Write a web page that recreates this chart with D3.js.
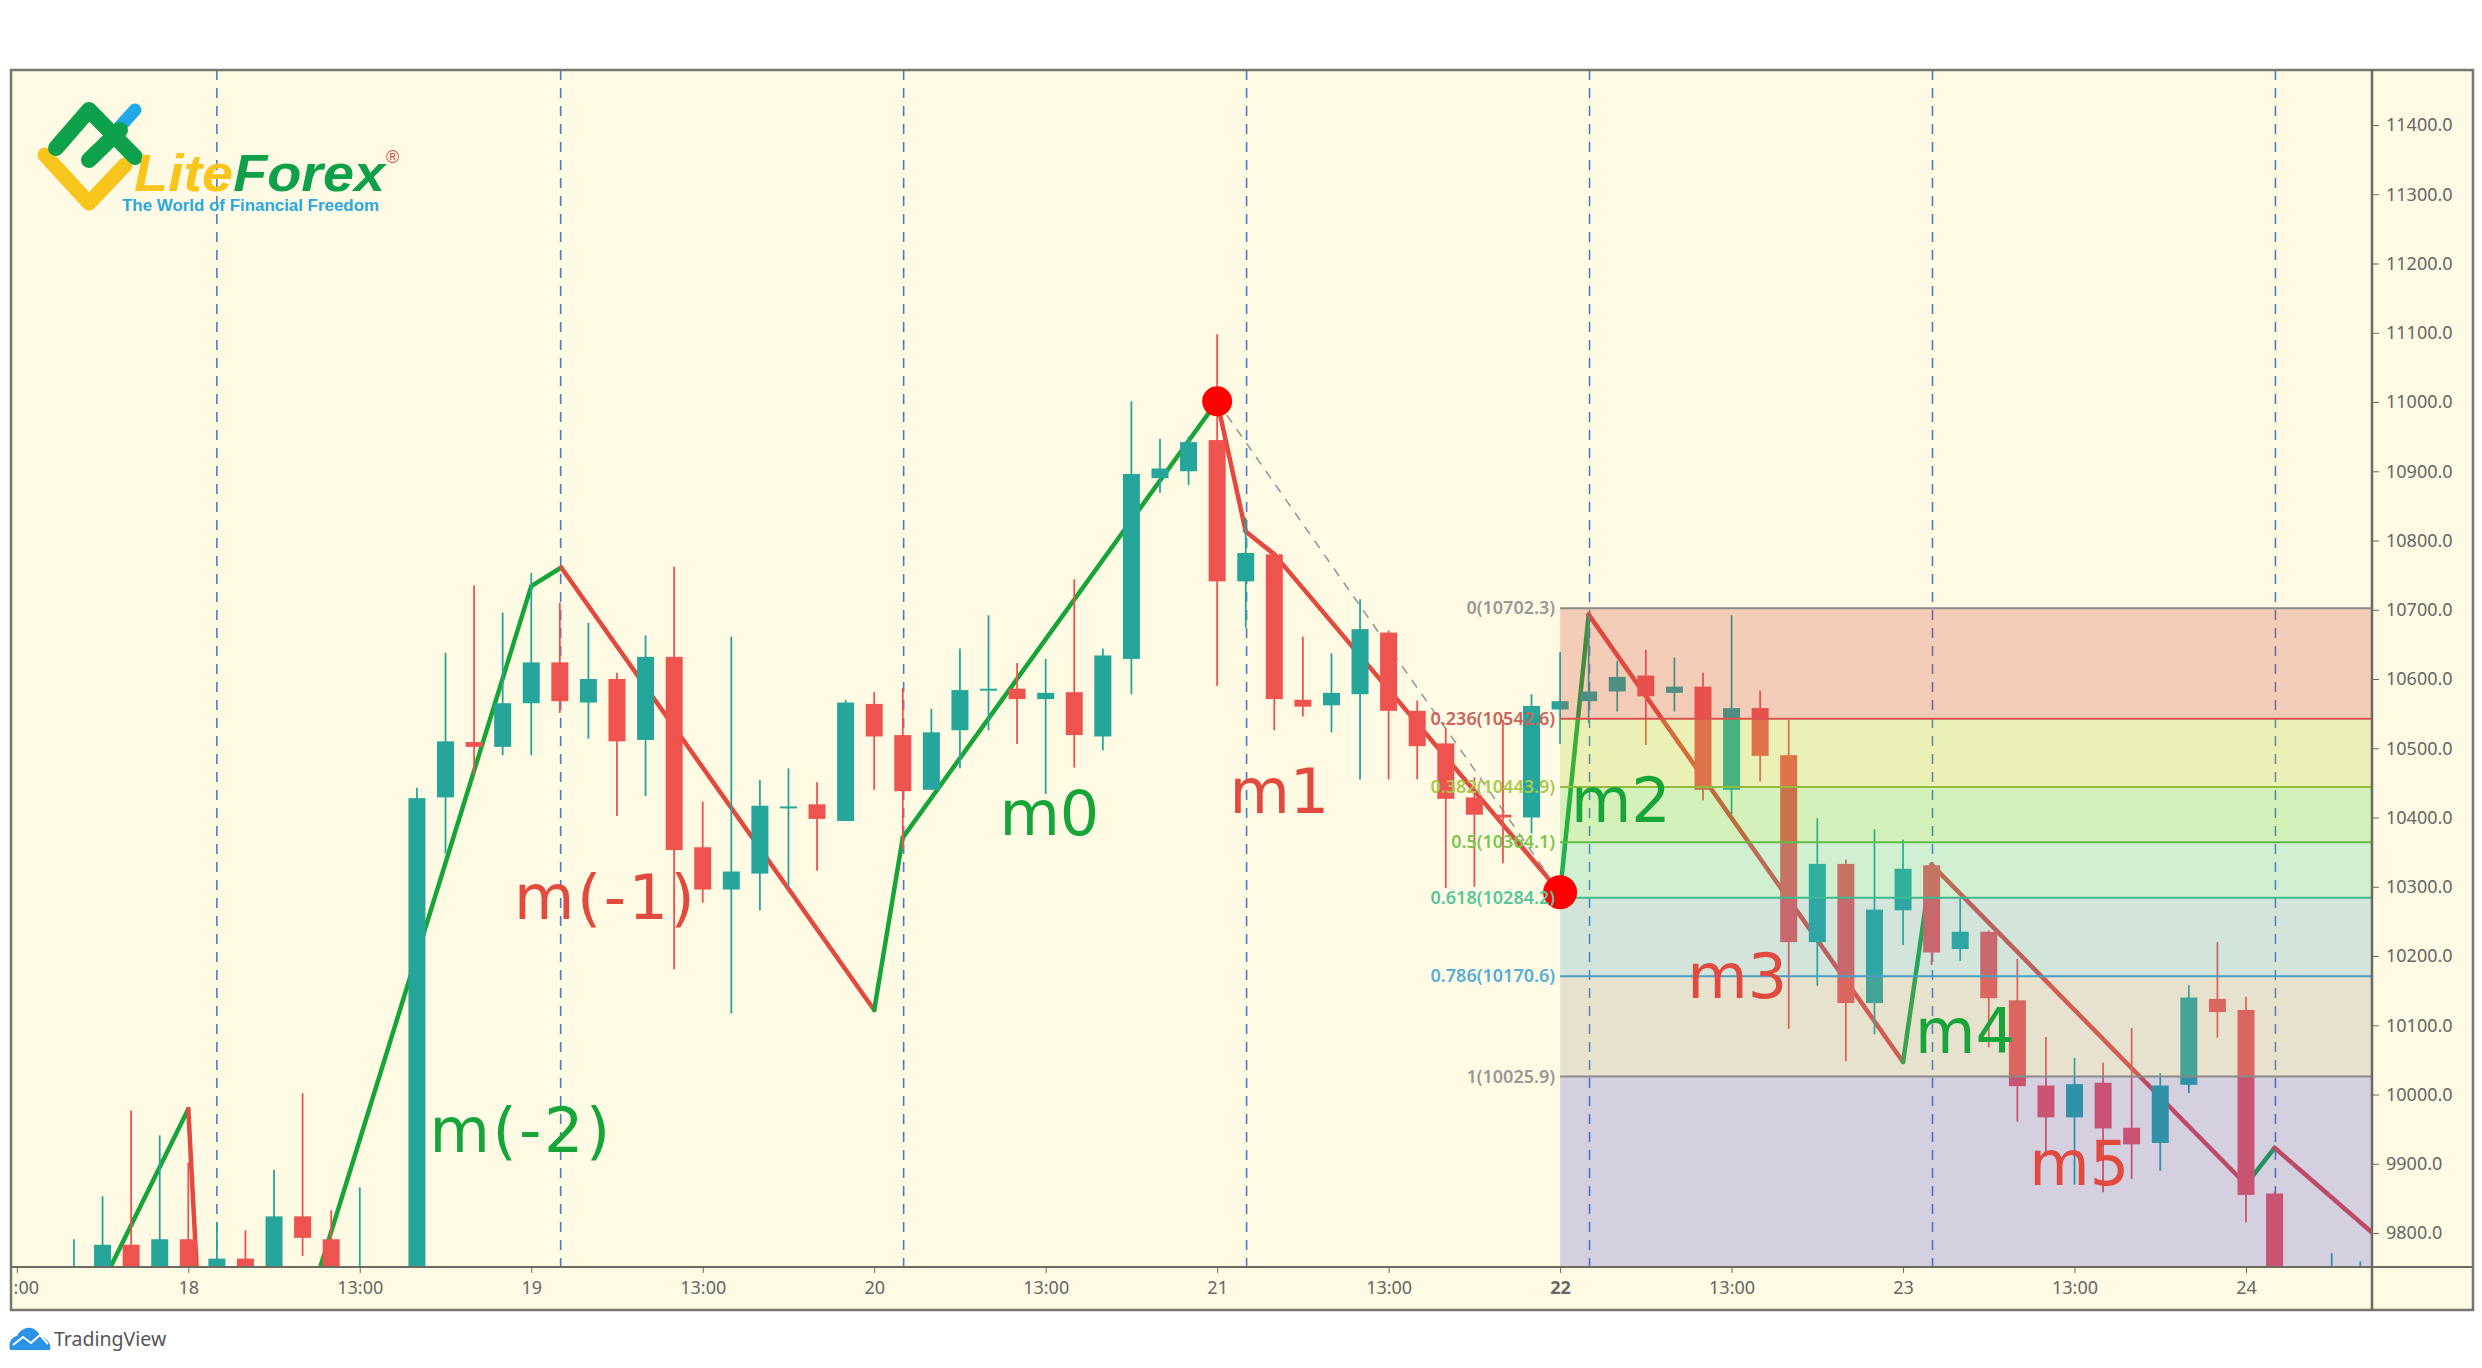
<!DOCTYPE html>
<html>
<head>
<meta charset="utf-8">
<title>LiteForex chart</title>
<script src="https://d3js.org/d3.v7.min.js"></script>
<style>
  html, body { margin: 0; background: #fff; }
  svg { display: block; }
  .axis text { font-family: "Noto Sans", sans-serif; fill: #666; }
  .axis path, .axis line { stroke: #6b6b62; }
</style>
</head>
<body>
<div id="chart"></div>
<script>
// 2h candles, first one is bar -4 (bar 0 sits on the "18" tick)
const firstBar = -4;
const opens  = [9720,9730,9783,9735,9791,9745,9763,9745,9824,9791,9710,9700,9730,10429,10509,10502,10565,10624,10566,10600,10512,10632,10357,10296,10319,10414,10419,10395,10564,10519,10440,10526,10585,10586,10571,10581,10517,10629,10890,10900,10945,10741,10780,10570,10562,10578,10667,10554,10507,10429,10404,10400,10556,10568,10582,10605,10580,10589,10440,10558,10490,10220,10333,10132,10266,10331,10210,10235,10136,10013,9967,10017,9952,9930,10014,10138,10122,9857,9745,9700,9710];
const highs  = [9791,9853,9977,9941,9902,9816,9804,9891,10002,9833,9866,9745,10443,10638,10735,10696,10753,10710,10681,10609,10663,10762,10423,10661,10454,10471,10451,10570,10581,10587,10557,10644,10692,10623,10629,10744,10644,11001,10947,10950,11098,10833,10784,10661,10637,10715,10670,10569,10529,10458,10541,10578,10639,10693,10626,10642,10631,10609,10692,10583,10541,10399,10339,10383,10368,10334,10285,10237,10196,10083,10053,10046,10096,10031,10158,10220,10141,9860,9745,9771,9759];
const lows   = [9690,9700,9720,9700,9740,9720,9720,9720,9767,9700,9690,9680,9720,10348,10462,10490,10490,10551,10514,10402,10431,10181,10277,10117,10266,10299,10323,10395,10440,10354,10440,10471,10526,10506,10434,10472,10497,10578,10869,10880,10590,10674,10526,10546,10523,10455,10455,10455,10298,10300,10334,10377,10506,10536,10553,10505,10553,10425,10405,10452,10095,10157,10048,10087,10216,10187,10193,10068,9961,9911,9870,9859,9878,9890,10002,10082,9815,9680,9670,9680,9690];
const closes = [9745,9783,9735,9791,9745,9763,9745,9824,9793,9740,9740,9730,10428,10510,10502,10565,10624,10568,10600,10510,10632,10353,10296,10322,10417,10416,10398,10566,10517,10438,10523,10584,10586,10571,10580,10519,10634,10896,10904,10942,10741,10782,10571,10560,10580,10672,10554,10503,10427,10404,10400,10561,10568,10582,10603,10575,10589,10440,10558,10489,10220,10333,10132,10267,10326,10205,10235,10139,10012,9967,10015,9951,9928,10013,10140,10119,9855,9700,9720,9730,9735];

// zigzag wave, bar + price of each turning point
const waveBars   = [-2.72, 0, 0.29, 4.62, 12, 13.05, 24, 25, 36, 37, 38, 48, 49, 60, 61, 72, 73, 76.4];
const wavePrices = [9751, 9979, 9751, 9751, 10734, 10761, 10122, 10371, 11001, 10813, 10780, 10292, 10693, 10047, 10332, 9870, 9923, 9801];
const waveUp     = [true, false, null, true, true, false, true, true, false, false, false, true, false, true, false, true, false];

const circleBars = [36, 48];
const circlePrices = [11001, 10292];
const circleSizes = [15, 17];

const dashedBars = [1, 13.03, 25.03, 37.03, 49.03, 61.03, 73.03];

const fibLevels = [10702.3, 10542.6, 10443.9, 10364.1, 10284.2, 10170.6, 10025.9];
const fibNames  = ["0", "0.236", "0.382", "0.5", "0.618", "0.786", "1"];
const fibLines  = ["#8a8a8a", "#d9534f", "#93bd3f", "#5fbb4a", "#3fb98f", "#4a9fc7", "#8a8a8a"];
const fibBands  = ["#d5493d", "#add531", "#55d93d", "#49d59d", "#51a9c5", "#a19d8d", "#5555d9"];
const fibText   = ["#999", "#c9635c", "#a9c84d", "#7cc552", "#55c79c", "#55aed6", "#999"];

const moveNames  = ["m(-2)", "m(-1)", "m0", "m1", "m2", "m3", "m4", "m5"];
const moveBars   = [8.44, 11.4, 28.38, 36.43, 48.38, 52.45, 60.42, 64.42];
const movePrices = [9917, 10253, 10375, 10406, 10394, 10139, 10060, 9870];
const moveUp     = [true, false, true, false, true, false, true, false];

const timeBars   = [-6, 0, 6, 12, 18, 24, 30, 36, 42, 48, 54, 60, 66, 72];
const timeLabels = [":00", "18", "13:00", "19", "13:00", "20", "13:00", "21", "13:00", "22", "13:00", "23", "13:00", "24"];
const priceTicks = [9800, 9900, 10000, 10100, 10200, 10300, 10400, 10500, 10600, 10700, 10800, 10900, 11000, 11100, 11200, 11300, 11400];

const width = 2482, height = 1368;
const frame = { left: 11, top: 70, right: 2473, bottom: 1310 };
const plot  = { right: 2372, bottom: 1267 };
const bg = "#fffae3", teal = "#26a69a", red = "#ef5350";
const lineGreen = "#17a53a", lineRed = "#e2493f";

const x = d3.scaleLinear().domain([0, 72]).range([188.3, 2246]);
const y = d3.scaleLinear().domain([9800, 11400]).range([1233, 125]);

const svg = d3.select("#chart").append("svg").attr("width", width).attr("height", height);

svg.append("clipPath").attr("id", "plotClip").append("rect")
  .attr("x", frame.left).attr("y", frame.top)
  .attr("width", plot.right - frame.left).attr("height", plot.bottom - frame.top);

svg.append("rect").attr("x", frame.left).attr("y", frame.top)
  .attr("width", frame.right - frame.left).attr("height", frame.bottom - frame.top)
  .attr("fill", bg);

const g = svg.append("g").attr("clip-path", "url(#plotClip)");

// vertical dashed lines
g.selectAll(".vdash").data(dashedBars).enter().append("line")
  .attr("x1", d => x(d)).attr("x2", d => x(d))
  .attr("y1", frame.top).attr("y2", plot.bottom)
  .attr("stroke", "#4a7cc4").attr("stroke-width", 1.6).attr("stroke-dasharray", "10,8");

// wave under the candles
waveUp.forEach(function(up, i) {
  if (up === null) return;
  g.append("line")
    .attr("x1", x(waveBars[i])).attr("y1", y(wavePrices[i]))
    .attr("x2", x(waveBars[i + 1])).attr("y2", y(wavePrices[i + 1]))
    .attr("stroke", up ? lineGreen : lineRed).attr("stroke-width", 4.5).attr("stroke-linecap", "round");
});

// m1 dashed guide
g.append("line")
  .attr("x1", x(circleBars[0])).attr("y1", y(circlePrices[0]))
  .attr("x2", x(circleBars[1])).attr("y2", y(circlePrices[1]))
  .attr("stroke", "#999").attr("stroke-width", 1.6).attr("stroke-dasharray", "9,8");

// candles
const candles = opens.map((o, i) => ({ bar: firstBar + i, o: o, h: highs[i], l: lows[i], c: closes[i] }));
const candleColor = d => d.c >= d.o ? teal : red;

g.selectAll(".wick").data(candles).enter().append("line")
  .attr("x1", d => x(d.bar)).attr("x2", d => x(d.bar))
  .attr("y1", d => y(d.h)).attr("y2", d => y(d.l))
  .attr("stroke", candleColor).attr("stroke-width", 1.8);

g.selectAll(".body").data(candles).enter().append("rect")
  .attr("x", d => x(d.bar) - 8.5).attr("width", 17)
  .attr("y", d => y(Math.max(d.o, d.c)))
  .attr("height", d => Math.max(2, Math.abs(y(d.o) - y(d.c))))
  .attr("fill", candleColor);

// fibonacci box sits on top of the candles
const fibLeft = x(48);
const bandTops = fibLevels.map(d => y(d));
const bandBottoms = bandTops.slice(1).concat(plot.bottom);
fibBands.forEach(function(col, i) {
  g.append("rect").attr("x", fibLeft).attr("y", bandTops[i])
    .attr("width", plot.right - fibLeft).attr("height", bandBottoms[i] - bandTops[i])
    .attr("fill", col).attr("fill-opacity", 0.25);
});
fibLevels.forEach(function(lv, i) {
  g.append("line").attr("x1", fibLeft).attr("x2", plot.right)
    .attr("y1", y(lv)).attr("y2", y(lv))
    .attr("stroke", fibLines[i]).attr("stroke-width", 2);
  svg.append("text").attr("x", fibLeft - 5).attr("y", y(lv) + 6)
    .attr("text-anchor", "end").attr("font-family", "Noto Sans, sans-serif")
    .attr("font-size", 18).attr("font-weight", 600).attr("fill", fibText[i])
    .text(fibNames[i] + "(" + lv.toFixed(1) + ")");
});

// turning points
circleBars.forEach(function(b, i) {
  g.append("circle").attr("cx", x(b)).attr("cy", y(circlePrices[i])).attr("r", circleSizes[i]).attr("fill", "#ff0000");
});

// move labels
moveNames.forEach(function(name, i) {
  svg.append("text").attr("x", x(moveBars[i])).attr("y", y(movePrices[i]))
    .attr("font-family", "DejaVu Sans, sans-serif").attr("font-size", 62)
    .attr("letter-spacing", name.length > 2 ? 2.5 : 0)
    .attr("fill", moveUp[i] ? lineGreen : lineRed)
    .text(name);
});

// frame and axes
svg.append("rect").attr("x", frame.left).attr("y", frame.top)
  .attr("width", frame.right - frame.left).attr("height", frame.bottom - frame.top)
  .attr("fill", "none").attr("stroke", "#77776f").attr("stroke-width", 2.5);

const priceAxis = d3.axisRight(y).tickValues(priceTicks).tickSize(7).tickPadding(7).tickFormat(d => d.toFixed(1));
const priceG = svg.append("g").attr("class", "axis").attr("transform", "translate(" + plot.right + ",0)").call(priceAxis);
priceG.select(".domain").remove();
priceG.selectAll("text").attr("font-size", 18);
svg.append("line").attr("x1", plot.right).attr("x2", plot.right).attr("y1", frame.top).attr("y2", frame.bottom)
  .attr("stroke", "#6b6b62").attr("stroke-width", 2.5);

const timeAxis = d3.axisBottom(x).tickValues(timeBars).tickSize(6).tickPadding(8)
  .tickFormat((d, i) => timeLabels[i]);
const timeG = svg.append("g").attr("class", "axis").attr("transform", "translate(0," + plot.bottom + ")").call(timeAxis);
timeG.select(".domain").remove();
timeG.selectAll("text").attr("font-size", 18).attr("font-weight", (d, i) => timeLabels[i] === "22" ? 700 : 400);
timeG.selectAll("text").filter((d, i) => i === 0).attr("dx", 9);
svg.append("line").attr("x1", frame.left).attr("x2", frame.right).attr("y1", plot.bottom).attr("y2", plot.bottom)
  .attr("stroke", "#6b6b62").attr("stroke-width", 2);

// LiteForex logo
const logo = svg.append("g").attr("fill", "none").attr("stroke-linecap", "round").attr("stroke-linejoin", "round");
logo.append("path").attr("d", "M115,132L135,110").attr("stroke", "#1fa9e8").attr("stroke-width", 13);
logo.append("path").attr("d", "M45,155L89,203L125,165").attr("stroke", "#f8c51c").attr("stroke-width", 15);
logo.append("path").attr("d", "M56,148L89,110L135,157").attr("stroke", "#0ea04b").attr("stroke-width", 16);
logo.append("path").attr("d", "M89,160L120,130").attr("stroke", "#0ea04b").attr("stroke-width", 16);

const brand = svg.append("text").attr("x", 134).attr("y", 191)
  .attr("font-family", "Liberation Sans, sans-serif").attr("font-size", 52)
  .attr("font-weight", 700).attr("font-style", "italic")
  .attr("textLength", 251).attr("lengthAdjust", "spacingAndGlyphs");
brand.append("tspan").attr("fill", "#f8c51c").text("Lite");
brand.append("tspan").attr("fill", "#0ea04b").text("Forex");
svg.append("text").attr("x", 386).attr("y", 163).attr("font-family", "Liberation Sans, sans-serif")
  .attr("font-size", 18).attr("fill", "#d9534f").text("®");
svg.append("text").attr("x", 122).attr("y", 211).attr("font-family", "Liberation Sans, sans-serif")
  .attr("font-size", 16).attr("font-weight", 700).attr("fill", "#29a9e0")
  .attr("textLength", 257).attr("lengthAdjust", "spacingAndGlyphs")
  .text("The World of Financial Freedom");

// TradingView mark
svg.append("path")
  .attr("d", "M10,1350C8,1342 12,1337 17,1336C20,1330 26,1327 31,1328C36,1329 39,1333 41,1337C47,1338 52,1344 50,1350Z")
  .attr("fill", "#2a93e6");
svg.append("path").attr("d", "M13,1345L23,1337L31,1343L40,1335L48,1344")
  .attr("fill", "none").attr("stroke", "#fff").attr("stroke-width", 2);
svg.append("text").attr("x", 54).attr("y", 1346).attr("font-family", "Noto Sans, sans-serif")
  .attr("font-size", 19.5).attr("fill", "#555").text("TradingView");
</script>
</body>
</html>
